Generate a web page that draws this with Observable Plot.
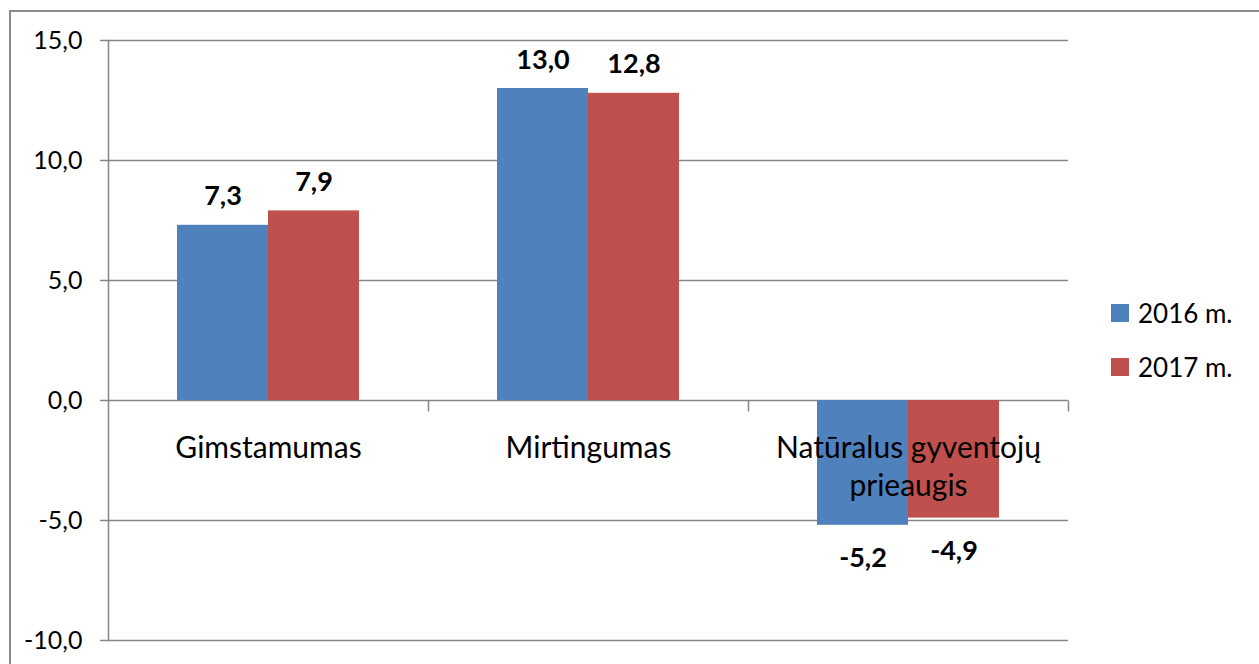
<!DOCTYPE html>
<html>
<head>
<meta charset="utf-8">
<script src="https://cdn.jsdelivr.net/npm/d3@7"></script>
<script src="https://cdn.jsdelivr.net/npm/@observablehq/plot@0.6"></script>
<style>
  html, body { margin: 0; padding: 0; background: #fff; }
  #wrap { position: relative; width: 1259px; height: 664px; overflow: hidden; font-family: Lato, "Open Sans", sans-serif; }
  #border { position: absolute; left: 9px; top: 10px; width: 1300px; height: 700px; border: 2px solid #8a8a8a; box-sizing: border-box; }
  #chart { position: absolute; left: 0; top: 0; }
  #legend { position: absolute; left: 1111px; top: 301px; font-size: 26px; color: #000; }
  .item { display: flex; align-items: center; height: 24px; margin-bottom: 30px; }
  .sw { width: 18px; height: 18px; margin-right: 9px; }
</style>
</head>
<body>
<div id="wrap">
  <div id="border"></div>
  <div id="chart"></div>
  <div id="legend"></div>
</div>
<script>
const categories = ["Gimstamumas", "Mirtingumas", "Natūralus gyventojų prieaugis"];
const categoryLabels = ["Gimstamumas", "Mirtingumas", "Natūralus gyventojų\nprieaugis"];
const series = ["2016 m.", "2017 m."];
const values2016 = [7.3, 13.0, -5.2];
const values2017 = [7.9, 12.8, -4.9];
const colors = ["#4F81BD", "#C0504D"];
const yTicks = [-10, -5, 0, 5, 10, 15];

const data = [];
categories.forEach((c, i) => {
  data.push({category: c, series: series[0], value: values2016[i]});
  data.push({category: c, series: series[1], value: values2017[i]});
});
const fmt = v => d3.format(".1f")(v).replace(".", ",").replace("−", "-");
const gray = "#878787";

const tickSymbol = {
  draw(ctx, size) {
    const r = Math.sqrt(size / Math.PI);
    ctx.moveTo(0, 0);
    ctx.lineTo(0, r);
  }
};

const chart = Plot.plot({
  width: 1259,
  height: 664,
  marginLeft: 107,
  marginRight: 191,
  marginTop: 40,
  marginBottom: 24,
  style: {fontFamily: "Lato, 'Open Sans', sans-serif", fontSize: "25px", background: "transparent", overflow: "visible", color: "#000"},
  fx: {domain: categories, padding: 0, axis: null, label: null},
  x: {domain: series, paddingInner: 0, paddingOuter: 0.75, axis: null, label: null},
  y: {domain: [-10, 15], label: null},
  color: {domain: series, range: colors},
  marks: [
    Plot.ruleY(yTicks, {stroke: gray, strokeWidth: 1.5}),
    Plot.frame({anchor: "left", facetAnchor: "left", stroke: gray, strokeWidth: 1.5}),
    Plot.axisY({ticks: yTicks, tickSize: 8, tickPadding: 18, tickFormat: fmt, fontSize: 25, stroke: gray, strokeWidth: 1.5, fill: "#000", label: null}),
    Plot.barY(data, {fx: "category", x: "series", y: "value", fill: "series"}),
    Plot.dot(categories, {fx: d => d, y: () => 0, frameAnchor: "right", symbol: tickSymbol, r: 11, stroke: gray, strokeWidth: 1.5, fill: "none"}),
    Plot.text(data.filter(d => d.value >= 0), {fx: "category", x: "series", y: "value", text: d => fmt(d.value), lineAnchor: "bottom", dy: -20, fontSize: 27, fontWeight: "bold", fill: "#000"}),
    Plot.text(data.filter(d => d.value < 0), {fx: "category", x: "series", y: "value", text: d => fmt(d.value), lineAnchor: "top", dy: 23, fontSize: 27, fontWeight: "bold", fill: "#000"}),
    Plot.text(categories, {fx: d => d, y: () => 0, text: (d, i) => categoryLabels[i], frameAnchor: "middle", lineAnchor: "top", dy: 30, fontSize: 30, lineHeight: 1.27, fill: "#000"})
  ]
});
document.getElementById("chart").appendChild(chart);

const legend = document.getElementById("legend");
series.forEach((s, i) => {
  const it = document.createElement("div");
  it.className = "item";
  const sw = document.createElement("div");
  sw.className = "sw";
  sw.style.background = colors[i];
  const t = document.createElement("span");
  t.textContent = s;
  it.appendChild(sw); it.appendChild(t);
  legend.appendChild(it);
});
</script>
</body>
</html>
